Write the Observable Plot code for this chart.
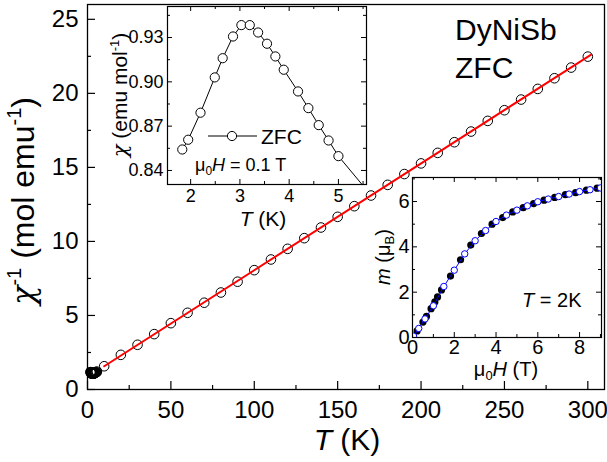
<!DOCTYPE html>
<html><head><meta charset="utf-8">
<script src="https://cdn.jsdelivr.net/npm/d3@7"></script>
<script src="https://cdn.jsdelivr.net/npm/@observablehq/plot@0.6"></script>
<style>
body{margin:0;background:#fff;}
#wrap{position:relative;width:607px;height:462px;}
#wrap svg{position:absolute;left:0;top:0;}
</style></head><body><div id="wrap"></div>
<script>
const FONT = '"Liberation Sans", Arial, Helvetica, sans-serif';
const GREEK = '"DejaVu Serif", serif';

// Main panel: inverse susceptibility vs T
const mainT = [10,20,30,40,50,60,70,80,90,100,110,120,130,140,150,160,170,180,190,200,210,220,230,240,250,260,270,280,290,300];
const mainInv = [1.57,2.34,3.02,3.74,4.48,5.18,5.86,6.55,7.28,8.06,8.78,9.50,10.22,10.94,11.66,12.38,13.10,13.82,14.55,15.27,15.98,16.70,17.42,18.14,18.86,19.58,20.30,21.02,21.74,22.48];
const fitT = [10, 302];
const fitInv = [1.57, 22.62];
const mainXTicks = [0,50,100,150,200,250,300];
const mainXMinor = [25,75,125,175,225,275];
const mainYTicks = [0,5,10,15,20,25];
const mainYMinor = [2.5,7.5,12.5,17.5,22.5];

// Inset 1: chi vs T (ZFC, 0.1 T)
const zfcT =   [1.83,1.95,2.20,2.49,2.65,2.86,3.03,3.20,3.37,3.55,3.72,3.89,4.18,4.39,4.60,4.80,5.00,5.60];
const zfcChi = [0.8542,0.8608,0.8791,0.9030,0.9160,0.9307,0.9384,0.9384,0.9334,0.9258,0.9172,0.9082,0.8935,0.8822,0.8707,0.8603,0.8497,0.8257];
const in1XTicks = [2,3,4,5];
const in1XMinor = [2.5,3.5,4.5,5.5];
const in1YTicks = [0.84,0.87,0.90,0.93];
const in1YMinor = [0.855,0.885,0.915,0.945];

// Inset 2: magnetization at 2 K
const mFilledH = [0.03,0.22,0.50,0.67,0.89,1.07,1.20,1.39,1.82,2.30,2.79,3.30,3.81,4.32,4.80,5.30,5.80,6.30,6.81,7.32,7.81,8.33,8.84];
const mFilled  = [0.04,0.29,0.68,0.93,1.27,1.57,1.79,2.10,2.71,3.43,4.08,4.59,5.00,5.29,5.54,5.73,5.91,6.06,6.18,6.30,6.39,6.50,6.59];
const mOpenH = [0.05,0.30,0.60,1.00,1.50,2.00,2.50,3.00,3.50,4.00,4.50,5.00,5.50,6.00,6.50,7.00,7.50,8.00,8.50,9.00];
const mOpen  = [0.06,0.40,0.82,1.40,2.25,2.97,3.69,4.27,4.72,5.12,5.40,5.62,5.81,5.99,6.11,6.22,6.33,6.44,6.52,6.60];
const in2XTicks = [0,2,4,6,8];
const in2XMinor = [1,3,5,7,9];
const in2YTicks = [0,2,4,6];
const in2YMinor = [1,3,5,7];

const mainData = mainT.map((t,i)=>({T:t, v:mainInv[i]}));
const fitData = fitT.map((t,i)=>({T:t, v:fitInv[i]}));
const zfcData = zfcT.map((t,i)=>({T:t, chi:zfcChi[i], inv:1/zfcChi[i]}));
const filledData = mFilledH.map((h,i)=>({H:h, m:mFilled[i]}));
const openData = mOpenH.map((h,i)=>({H:h, m:mOpen[i]}));
const intFmt = d => String(d);

function inTicks(vals, side, len, fw, fh, sw=1.2) {
  const o = {stroke:"black", strokeWidth:sw};
  if (side==="bottom") return Plot.ruleX(vals, {x:d=>d, insetTop: fh-len, ...o});
  if (side==="top") return Plot.ruleX(vals, {x:d=>d, insetBottom: fh-len, ...o});
  if (side==="left") return Plot.ruleY(vals, {y:d=>d, insetRight: fw-len, ...o});
  return Plot.ruleY(vals, {y:d=>d, insetLeft: fw-len, ...o});
}

function addText(svg, x, y, parts, {size, anchor="start", rotate=0}) {
  const t = d3.select(svg).append("text")
    .attr("transform", `translate(${x},${y})` + (rotate ? ` rotate(${rotate})` : ""))
    .attr("font-size", size).attr("font-family", FONT)
    .attr("text-anchor", anchor).attr("fill", "black");
  let cur = 0;
  for (const p of parts) {
    const s = t.append("tspan").text(p.t);
    if (p.i) s.attr("font-style", "italic");
    if (p.f) s.style("font-family", p.f);
    if (p.size) s.attr("font-size", p.size);
    const sh = p.shift || 0;
    if (sh !== cur) { s.attr("dy", sh - cur); cur = sh; }
  }
}

const W = 607, H = 462;
const wrap = document.getElementById("wrap");

// ---------- main ----------
const mL=87, mR=3, mT=4, mB=73;
const mFW = W-mL-mR, mFH = H-mT-mB;
const main = Plot.plot({
  width: W, height: H, marginLeft: mL, marginRight: mR, marginTop: mT, marginBottom: mB,
  style: {fontFamily: FONT, fontSize: "24px", background: "white", color: "black"},
  x: {domain: [0, 310]}, y: {domain: [0, 26]},
  marks: [
    Plot.axisX({ticks: mainXTicks, tickSize: 0, tickPadding: 11, label: null, fontSize: 24, tickFormat: intFmt}),
    Plot.axisY({ticks: mainYTicks, tickSize: 0, tickPadding: 9, label: null, fontSize: 24, tickFormat: intFmt}),
    inTicks(mainXTicks, "bottom", 8, mFW, mFH),
    inTicks(mainXMinor, "bottom", 4, mFW, mFH),
    inTicks(mainYTicks, "left", 8, mFW, mFH),
    inTicks(mainYMinor, "left", 4, mFW, mFH),
    Plot.dot(mainData, {x:"T", y:"v", r:4.8, stroke:"black", strokeWidth:1, fill:"none"}),
    Plot.dot(zfcData, {x:"T", y:"inv", r:4.8, stroke:"black", strokeWidth:1.2, fill:"none"}),
    Plot.line(fitData, {x:"T", y:"v", stroke:"#ff0000", strokeWidth:2}),
    Plot.frame({stroke:"black", strokeWidth:1.3})
  ]
});
wrap.appendChild(main);
addText(main, 34, 201, [{t:"χ", i:true, f:GREEK},{t:"-1", size:20, shift:-13},{t:" (mol emu", shift:0},{t:"-1", size:20, shift:-13},{t:")", shift:0}], {size:32, anchor:"middle", rotate:-90});
addText(main, 347, 450, [{t:"T", i:true},{t:" (K)"}], {size:30, anchor:"middle"});
addText(main, 455, 40, [{t:"DyNiSb"}], {size:30});
addText(main, 455, 78, [{t:"ZFC"}], {size:30});

// ---------- inset 1 ----------
const aL=167, aR=W-366, aT=6, aB=H-184;
const aFW = W-aL-aR, aFH = H-aT-aB;
const in1 = Plot.plot({
  width: W, height: H, marginLeft: aL, marginRight: aR, marginTop: aT, marginBottom: aB,
  style: {fontFamily: FONT, fontSize: "17px", background: "transparent", color: "black"},
  x: {domain: [1.53, 5.57]}, y: {domain: [0.8305, 0.951]},
  marks: [
    Plot.frame({fill:"white", stroke:"none"}),
    Plot.axisX({ticks: in1XTicks, tickSize: 0, tickPadding: 5, label: null, fontSize: 18, tickFormat: intFmt}),
    Plot.axisY({ticks: in1YTicks, tickSize: 0, tickPadding: 4, label: null, fontSize: 18, tickFormat: d3.format(".2f")}),
    inTicks(in1XTicks, "bottom", 5, aFW, aFH, 1), inTicks(in1XMinor, "bottom", 3, aFW, aFH, 1),
    inTicks(in1XTicks, "top", 5, aFW, aFH, 1), inTicks(in1XMinor, "top", 3, aFW, aFH, 1),
    inTicks(in1YTicks, "left", 5, aFW, aFH, 1), inTicks(in1YMinor, "left", 3, aFW, aFH, 1),
    inTicks(in1YTicks, "right", 5, aFW, aFH, 1), inTicks(in1YMinor, "right", 3, aFW, aFH, 1),
    Plot.line(zfcData, {x:"T", y:"chi", stroke:"black", strokeWidth:1, clip:true}),
    Plot.dot(zfcData, {x:"T", y:"chi", r:4.6, stroke:"black", strokeWidth:1, fill:"white", clip:true}),
    Plot.frame({stroke:"black", strokeWidth:1.2})
  ]
});
wrap.appendChild(in1);
addText(in1, 127, 95, [{t:"χ", i:true, f:GREEK},{t:" (emu mol"},{t:"-1", size:13, shift:-8},{t:")", shift:0}], {size:21, anchor:"middle", rotate:-90});
addText(in1, 263, 226, [{t:"T", i:true},{t:" (K)"}], {size:21, anchor:"middle"});
{
  const g = d3.select(in1);
  g.append("line").attr("x1",208).attr("x2",257).attr("y1",136).attr("y2",136).attr("stroke","black").attr("stroke-width",1);
  g.append("circle").attr("cx",232).attr("cy",136).attr("r",4.6).attr("fill","white").attr("stroke","black");
}
addText(in1, 261, 143.5, [{t:"ZFC"}], {size:21});
addText(in1, 195, 171, [{t:"μ"},{t:"0", size:12, shift:4},{t:"H", i:true, shift:0},{t:" = 0.1 T"}], {size:18});

// ---------- inset 2 ----------
const bL=412, bR=6, bT=177, bB=H-337;
const bFW = W-bL-bR, bFH = H-bT-bB;
const in2 = Plot.plot({
  width: W, height: H, marginLeft: bL, marginRight: bR, marginTop: bT, marginBottom: bB,
  style: {fontFamily: FONT, fontSize: "20px", background: "transparent", color: "black"},
  x: {domain: [0, 9.05]}, y: {domain: [0, 7.06]},
  marks: [
    Plot.frame({fill:"white", stroke:"none"}),
    Plot.axisX({ticks: in2XTicks, tickSize: 0, tickPadding: 2, label: null, fontSize: 20, tickFormat: intFmt}),
    Plot.axisY({ticks: in2YTicks, tickSize: 0, tickPadding: 3, label: null, fontSize: 20, tickFormat: intFmt}),
    inTicks(in2XTicks, "bottom", 5, bFW, bFH, 1), inTicks(in2XMinor, "bottom", 3, bFW, bFH, 1),
    inTicks(in2XTicks, "top", 5, bFW, bFH, 1), inTicks(in2XMinor, "top", 3, bFW, bFH, 1),
    inTicks(in2YTicks, "left", 5, bFW, bFH, 1), inTicks(in2YMinor, "left", 3, bFW, bFH, 1),
    inTicks(in2YTicks, "right", 5, bFW, bFH, 1), inTicks(in2YMinor, "right", 3, bFW, bFH, 1),
    Plot.dot(filledData, {x:"H", y:"m", r:3.6, fill:"black", stroke:"none", clip:true}),
    Plot.line(openData, {x:"H", y:"m", stroke:"#0000ff", strokeWidth:1, clip:true}),
    Plot.dot(openData, {x:"H", y:"m", r:3.2, stroke:"#0000ff", strokeWidth:1, fill:"white", clip:true}),
    Plot.frame({stroke:"black", strokeWidth:1.2})
  ]
});
wrap.appendChild(in2);
addText(in2, 390, 257, [{t:"m", i:true},{t:" (μ"},{t:"B", size:13, shift:4},{t:")", shift:0}], {size:20, anchor:"middle", rotate:-90});
addText(in2, 506, 376, [{t:"μ"},{t:"0", size:13, shift:4},{t:"H", i:true, shift:0},{t:" (T)"}], {size:20, anchor:"middle"});
addText(in2, 522, 307, [{t:"T", i:true},{t:" = 2K"}], {size:20});
</script>
</body></html>
